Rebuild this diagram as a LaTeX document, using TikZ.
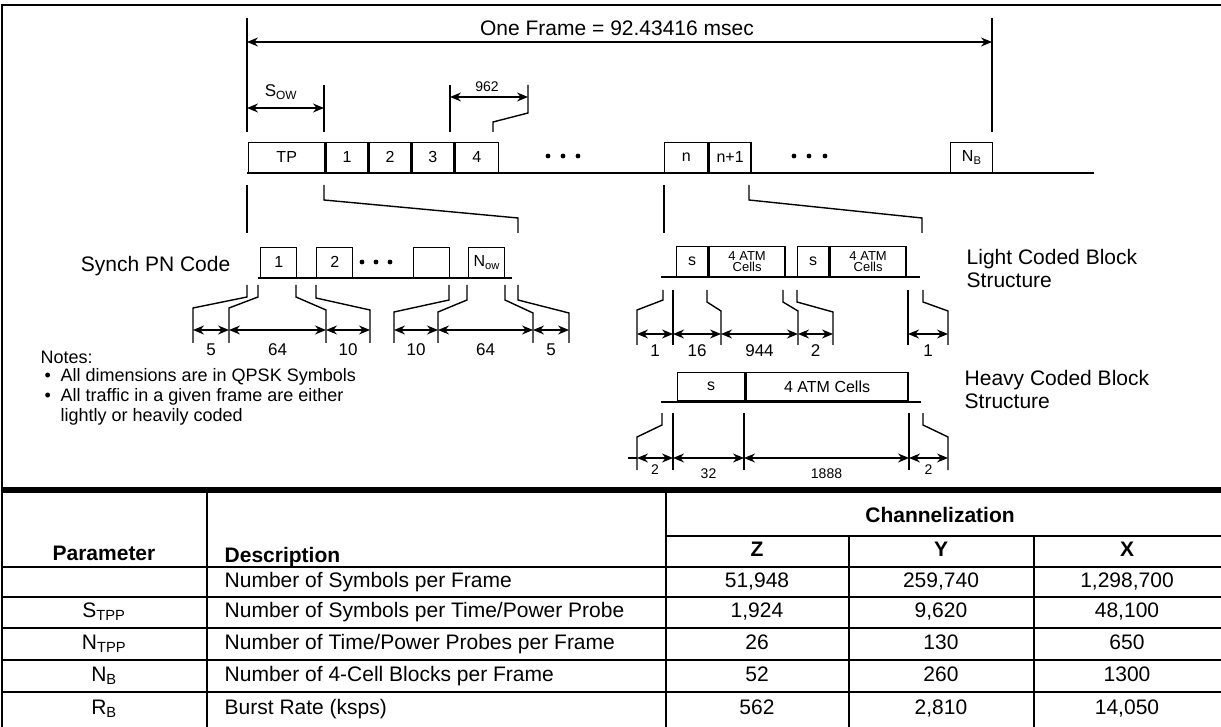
\documentclass[tikz,border=0pt]{standalone}
\usepackage{fontspec}
\setmainfont{Liberation Sans}
\usetikzlibrary{arrows.meta,positioning}

\begin{document}
\begin{tikzpicture}[x=1pt,y=-1pt,line width=1.4pt,
  cell/.style={draw, minimum height=30pt, inner sep=0pt, anchor=south west, font=\fontsize{16}{18}\selectfont},
  atm/.style={cell, align=center, font=\fontsize{13}{11}\selectfont},
  dimarr/.style={{Stealth[length=11pt,width=9pt]}-{Stealth[length=11pt,width=9pt]}},
  num/.style={font=\fontsize{17}{19}\selectfont, inner sep=0pt},
  note/.style={font=\fontsize{18}{20.5}\selectfont, inner sep=0pt, anchor=west, align=left},
  head/.style={font=\fontsize{21}{24}\selectfont\bfseries, inner sep=0pt, text height=15pt, text depth=4pt},
  entry/.style={font=\fontsize{21}{24}\selectfont, inner sep=0pt, text height=15pt, text depth=4pt}
]
\useasboundingbox (0,0) rectangle (1221,727);

% frame and table rule
\draw (2,727) -- (2,5) -- (1221,5);
\draw[line width=6pt] (2,490) -- (1221,490);

% one frame
\node[font=\fontsize{21}{25}\selectfont, inner sep=0pt] (title) at (617,28) {One Frame = 92.43416 msec};
\draw (247,18) -- (247,132);
\draw (992,18) -- (992,132);
\draw[dimarr] (247,42) -- (992,42);

\node[num] (sow) at (281,92) {S\textsubscript{OW}};
\draw (324,85) -- (324,132);
\draw[dimarr] (247,108) -- (324,108);

\node[num, font=\fontsize{14}{16}\selectfont] (l962) at (487,87) {962};
\draw (450,85) -- (450,132);
\draw (528,85) -- (528,113) -- (493,122) -- (493,132);
\draw[dimarr] (450,97) -- (528,97);

% frame blocks
\draw (247,173) -- (1094,173);
\node[cell, minimum width=76pt] (tp) at (248,173) {TP};
\node[cell, minimum width=42pt, right=0pt of tp] (b1) {1};
\node[cell, minimum width=41pt, right=0pt of b1] (b2) {2};
\node[cell, minimum width=42pt, right=0pt of b2] (b3) {3};
\node[cell, minimum width=43pt, right=0pt of b3] (b4) {4};
\node[cell, minimum width=43pt] (bn) at (664,173) {n};
\node[cell, minimum width=42pt, right=0pt of bn] (bn1) {n+1};
\node[cell, minimum width=42pt] (bnb) at (950,173) {N\textsubscript{B}};
\foreach \x in {548,563,578,794,809,825} \fill (\x,156) circle (2.4pt);

\draw (247,185) -- (247,233);
\draw (324,185) -- (324,200) -- (518,218) -- (518,233);
\draw (664,185) -- (664,233);
\draw (749,185) -- (749,200) -- (922,218) -- (922,233);

% synch PN code
\node[note, anchor=east, font=\fontsize{21}{24}\selectfont] (synch) at (231,266) {Synch PN Code};
\draw (258,278) -- (512,278);
\node[cell, minimum width=36pt] (p1) at (260,278) {1};
\node[cell, minimum width=36pt] (p2) at (316,278) {2};
\node[cell, minimum width=36pt] (p3) at (413,278) {};
\node[cell, minimum width=36pt] (pn) at (468,278) {N\textsubscript{ow}};
\foreach \x in {362,376,390} \fill (\x,262) circle (2.4pt);

\draw (247,285) -- (247,297) -- (193,308) -- (193,343);
\draw (258,285) -- (258,297) -- (229,308) -- (229,343);
\draw (296,285) -- (296,297) -- (326,310) -- (326,343);
\draw (316,285) -- (316,298) -- (370,310) -- (370,343);
\draw (449,285) -- (449,300) -- (394,312) -- (394,343);
\draw (467,285) -- (467,300) -- (438,312) -- (438,343);
\draw (505,285) -- (505,300) -- (533,313) -- (533,343);
\draw (518,285) -- (518,300) -- (569,313) -- (569,343);
\foreach \a/\b/\t in {193/229/5,229/326/64,326/370/10,394/438/10,438/533/64,533/569/5} {
  \draw[dimarr] (\a,330) -- (\b,330);
  \node[num] at ({(\a+\b)/2},350) {\t};
}

% notes
\node[note] (notes) at (40,357) {Notes:};
\node[note] (bull1) at (44,377) {\textbullet};
\node[note] (note1) at (60,377) {All dimensions are in QPSK Symbols};
\node[note] (bull2) at (44,397) {\textbullet};
\node[note] (note2) at (60,407) {All traffic in a given frame are either\\lightly or heavily coded};

% light coded block
\draw (661,277) -- (920,277);
\node[cell, minimum width=31pt] (ls1) at (676,277) {s};
\node[atm, minimum width=76pt, right=0pt of ls1] (la1) {4 ATM\\Cells};
\node[cell, minimum width=31pt] (ls2) at (797,277) {s};
\node[atm, minimum width=76pt, right=0pt of ls2] (la2) {4 ATM\\Cells};
\node[note, font=\fontsize{21}{23}\selectfont] (light) at (966,268) {Light Coded Block\\Structure};

\draw (663,290) -- (663,300) -- (637,310) -- (637,345);
\draw (673,290) -- (673,345);
\draw (707,290) -- (707,302) -- (721,311) -- (721,345);
\draw (783,290) -- (783,302) -- (798,311) -- (798,345);
\draw (797,290) -- (797,302) -- (833,312) -- (833,345);
\draw (908,290) -- (908,345);
\draw (923,290) -- (923,302) -- (948,311) -- (948,345);
\foreach \a/\b/\t in {637/673/1,673/721/16,721/798/944,798/833/2,908/948/1} {
  \draw[dimarr] (\a,334) -- (\b,334);
  \node[num] at ({(\a+\b)/2},351) {\t};
}

% heavy coded block
\draw (661,402) -- (921,402);
\node[cell, minimum width=67pt, minimum height=28pt] (hs) at (677,401) {s};
\node[cell, minimum width=162pt, minimum height=28pt, right=0pt of hs] (ha) {4 ATM Cells};
\node[note, font=\fontsize{21}{23}\selectfont] (heavy) at (964,389) {Heavy Coded Block\\Structure};

\draw (662,413) -- (662,425) -- (637,437) -- (637,470);
\draw (673,413) -- (673,470);
\draw (744,413) -- (744,470);
\draw (909,413) -- (909,470);
\draw (923,413) -- (923,425) -- (948,437) -- (948,470);
\draw (628,458) -- (637,458);
\foreach \a/\b/\t/\h in {637/673/2/470,673/744/32/474,744/909/1888/474,909/948/2/470} {
  \draw[dimarr] (\a,458) -- (\b,458);
  \node[num, font=\fontsize{14}{16}\selectfont] at ({(\a+\b)/2},\h) {\t};
}

% table
\draw (207,493) -- (207,727);
\draw (666,493) -- (666,727);
\draw (666,536) -- (1221,536);
\draw (849,536) -- (849,727);
\draw (1034,536) -- (1034,727);
\foreach \y in {567,597,628,660,692} \draw (2,\y) -- (1221,\y);

\node[head] (chan) at (940,517) {Channelization};
\node[head] (hz) at (757,551) {Z};
\node[head] (hy) at (941,551) {Y};
\node[head] (hx) at (1127,551) {X};
\node[head] (hpar) at (104,555) {Parameter};
\node[head, anchor=west] (hdesc) at (224,557) {Description};

\foreach \y/\p/\d/\z/\v/\w in {
  582//{Number of Symbols per Frame}/{51,948}/{259,740}/{1,298,700},
  612/{S\textsubscript{TPP}}/{Number of Symbols per Time/Power Probe}/{1,924}/{9,620}/{48,100},
  644/{N\textsubscript{TPP}}/{Number of Time/Power Probes per Frame}/26/130/650,
  676/{N\textsubscript{B}}/{Number of 4-Cell Blocks per Frame}/52/260/1300,
  709/{R\textsubscript{B}}/{Burst Rate (ksps)}/562/{2,810}/{14,050}} {
  \node[entry] at (104,\y) {\p};
  \node[entry, anchor=west] at (224,\y) {\d};
  \node[entry] at (757,\y) {\z};
  \node[entry] at (941,\y) {\v};
  \node[entry] at (1127,\y) {\w};
}
\end{tikzpicture}
\end{document}
